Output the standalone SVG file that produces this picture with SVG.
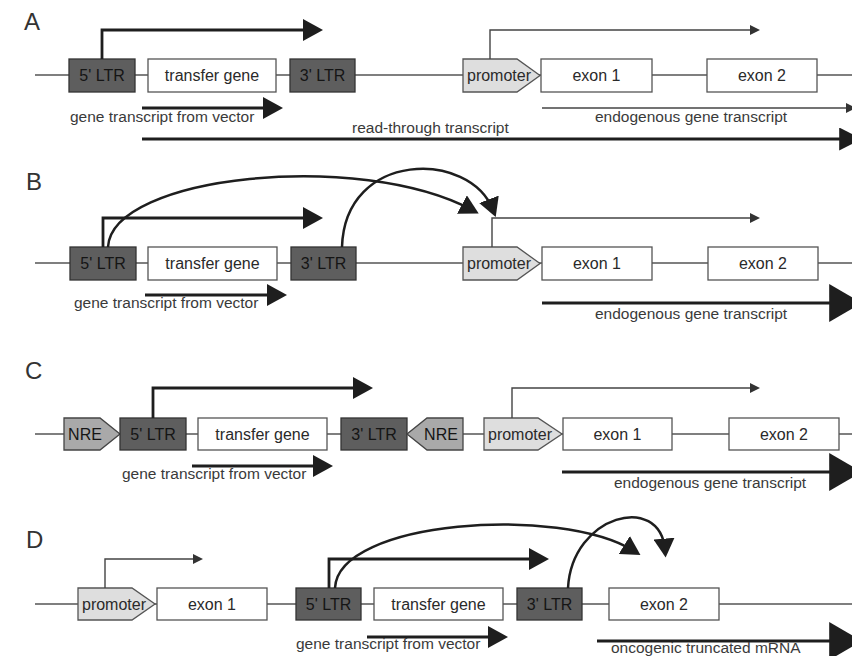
<svg xmlns="http://www.w3.org/2000/svg" width="852" height="656" viewBox="0 0 852 656">
<style>
text{font-family:"Liberation Sans",Arial,sans-serif;}
.bg{fill:#ffffff;}
.dna{stroke:#555;stroke-width:1.3;fill:none;}
.ltr{fill:#5e5e5e;stroke:#333;stroke-width:1.3;}
.box{fill:#fff;stroke:#555;stroke-width:1.3;}
.prom{fill:#dedede;stroke:#555;stroke-width:1.3;}
.nre{fill:#a9a9a9;stroke:#444;stroke-width:1.3;}
.bt{font-size:16px;fill:#2a2a2a;text-anchor:middle;}
.ltrt{font-size:16px;fill:#151515;text-anchor:middle;}
.lbl{font-size:15.5px;fill:#3a3a3a;}
.pl{font-size:24px;fill:#333;}
.thick{stroke:#1e1e1e;stroke-width:2.8;fill:none;}
.thin{stroke:#444;stroke-width:1.4;fill:none;}
.curve{stroke:#1e1e1e;stroke-width:2.5;fill:none;}
</style>
<defs>
<marker id="big" viewBox="0 0 10 10" refX="6" refY="5" markerWidth="20" markerHeight="22" markerUnits="userSpaceOnUse" orient="auto" preserveAspectRatio="none"><path d="M0,0 L10,5 L0,10 z" fill="#1e1e1e"/></marker>
<marker id="small" viewBox="0 0 10 10" refX="6" refY="5" markerWidth="10" markerHeight="10" markerUnits="userSpaceOnUse" orient="auto" preserveAspectRatio="none"><path d="M0,0 L10,5 L0,10 z" fill="#333"/></marker>
<marker id="huge" viewBox="0 0 10 10" refX="6" refY="5" markerWidth="33" markerHeight="38" markerUnits="userSpaceOnUse" orient="auto" preserveAspectRatio="none"><path d="M0,0 L10,5 L0,10 z" fill="#1e1e1e"/></marker>
<marker id="rt" viewBox="0 0 10 10" refX="6" refY="5" markerWidth="23" markerHeight="23" markerUnits="userSpaceOnUse" orient="auto" preserveAspectRatio="none"><path d="M0,0 L10,5 L0,10 z" fill="#1e1e1e"/></marker>
<marker id="cv" viewBox="0 0 10 10" refX="6" refY="5" markerWidth="19" markerHeight="21" markerUnits="userSpaceOnUse" orient="auto" preserveAspectRatio="none"><path d="M0,0 L10,5 L0,10 z" fill="#1e1e1e"/></marker>
</defs>
<rect class="bg" x="0" y="0" width="852" height="656"/>

<!-- Panel labels -->
<text class="pl" x="24" y="30">A</text>
<text class="pl" x="26" y="190">B</text>
<text class="pl" x="25" y="379">C</text>
<text class="pl" x="26" y="548">D</text>

<!-- DNA baselines -->
<g id="dna-lines">
<line class="dna" x1="35" y1="75" x2="852" y2="75"/>
<line class="dna" x1="35" y1="263" x2="852" y2="263"/>
<line class="dna" x1="35" y1="434" x2="852" y2="434"/>
<line class="dna" x1="35" y1="604" x2="852" y2="604"/>
</g>

<!-- Panel A nodes -->
<g id="A-5ltr"><rect class="ltr" x="69" y="59" width="66" height="33"/><text class="ltrt" x="102" y="81">5' LTR</text></g>
<g id="A-transfer"><rect class="box" x="148" y="59" width="128" height="33"/><text class="bt" x="212" y="81">transfer gene</text></g>
<g id="A-3ltr"><rect class="ltr" x="290" y="59" width="65" height="33"/><text class="ltrt" x="322.5" y="81">3' LTR</text></g>
<g id="A-promoter"><path class="prom" d="M463,59 H517 L540,75.5 L517,92 H463 Z"/><text class="bt" x="499" y="81">promoter</text></g>
<g id="A-exon1"><rect class="box" x="541" y="59" width="111" height="33"/><text class="bt" x="596.5" y="81">exon 1</text></g>
<g id="A-exon2"><rect class="box" x="707" y="59" width="110" height="33"/><text class="bt" x="762" y="81">exon 2</text></g>

<!-- Panel B nodes -->
<g id="B-5ltr"><rect class="ltr" x="70" y="247" width="66" height="33"/><text class="ltrt" x="103" y="269">5' LTR</text></g>
<g id="B-transfer"><rect class="box" x="148" y="247" width="129" height="33"/><text class="bt" x="212.5" y="269">transfer gene</text></g>
<g id="B-3ltr"><rect class="ltr" x="291" y="247" width="65" height="33"/><text class="ltrt" x="323.5" y="269">3' LTR</text></g>
<g id="B-promoter"><path class="prom" d="M463,247 H517 L540,263.5 L517,280 H463 Z"/><text class="bt" x="499" y="269">promoter</text></g>
<g id="B-exon1"><rect class="box" x="542" y="247" width="110" height="33"/><text class="bt" x="597" y="269">exon 1</text></g>
<g id="B-exon2"><rect class="box" x="708" y="247" width="110" height="33"/><text class="bt" x="763" y="269">exon 2</text></g>

<!-- Panel C nodes -->
<g id="C-nre1"><path class="nre" d="M64,418 H100 L120,434 L100,450 H64 Z"/><text class="ltrt" x="85" y="440">NRE</text></g>
<g id="C-5ltr"><rect class="ltr" x="120" y="418" width="66" height="32"/><text class="ltrt" x="153" y="440">5' LTR</text></g>
<g id="C-transfer"><rect class="box" x="198" y="418" width="129" height="32"/><text class="bt" x="262.5" y="440">transfer gene</text></g>
<g id="C-3ltr"><rect class="ltr" x="341" y="418" width="66" height="32"/><text class="ltrt" x="374" y="440">3' LTR</text></g>
<g id="C-nre2"><path class="nre" d="M463,418 H427 L407,434 L427,450 H463 Z"/><text class="ltrt" x="441" y="440">NRE</text></g>
<g id="C-promoter"><path class="prom" d="M484,418 H538 L562,434 L538,450 H484 Z"/><text class="bt" x="520" y="440">promoter</text></g>
<g id="C-exon1"><rect class="box" x="563" y="418" width="109" height="32"/><text class="bt" x="617.5" y="440">exon 1</text></g>
<g id="C-exon2"><rect class="box" x="729" y="418" width="110" height="32"/><text class="bt" x="784" y="440">exon 2</text></g>

<!-- Panel D nodes -->
<g id="D-promoter"><path class="prom" d="M78,588 H132 L155,604 L132,620 H78 Z"/><text class="bt" x="114" y="610">promoter</text></g>
<g id="D-exon1"><rect class="box" x="157" y="588" width="110" height="32"/><text class="bt" x="212" y="610">exon 1</text></g>
<g id="D-5ltr"><rect class="ltr" x="296" y="588" width="65" height="32"/><text class="ltrt" x="328.5" y="610">5' LTR</text></g>
<g id="D-transfer"><rect class="box" x="374" y="588" width="129" height="32"/><text class="bt" x="438.5" y="610">transfer gene</text></g>
<g id="D-3ltr"><rect class="ltr" x="517" y="588" width="65" height="32"/><text class="ltrt" x="549.5" y="610">3' LTR</text></g>
<g id="D-exon2"><rect class="box" x="609" y="588" width="110" height="32"/><text class="bt" x="664" y="610">exon 2</text></g>

<!-- Connectors / transcripts -->
<g id="connectors">
<!-- A -->
<path class="thick" d="M102,59 V30 H315" marker-end="url(#big)"/>
<path class="thin" d="M490,59 V30 H756" marker-end="url(#small)"/>
<path class="thick" d="M142,108 H275" marker-end="url(#big)"/>
<path class="thin" d="M542,108 H852" marker-end="url(#small)"/>
<path class="thick" d="M142,139 H853" marker-end="url(#rt)"/>
<!-- B -->
<path class="thick" d="M103,247 V218 H315" marker-end="url(#big)"/>
<path class="thin" d="M492,247 V218 H756" marker-end="url(#small)"/>
<path class="curve" d="M108,247 C112,175 360,150 472,210" marker-end="url(#cv)"/>
<path class="curve" d="M342,247 C345,150 470,150 493,210" marker-end="url(#cv)"/>
<path class="thick" d="M145,295 H279" marker-end="url(#big)"/>
<path class="thick" d="M542,303 H849" marker-end="url(#huge)"/>
<!-- C -->
<path class="thick" d="M153,418 V388 H365" marker-end="url(#big)"/>
<path class="thin" d="M512,418 V388 H756" marker-end="url(#small)"/>
<path class="thick" d="M192,466 H325" marker-end="url(#big)"/>
<path class="thick" d="M562,472 H849" marker-end="url(#huge)"/>
<!-- D -->
<path class="thin" d="M105,588 V559 H199" marker-end="url(#small)"/>
<path class="thick" d="M329,588 V559 H541" marker-end="url(#big)"/>
<path class="curve" d="M335,588 C338,520 560,505 634,551" marker-end="url(#cv)"/>
<path class="curve" d="M568,588 C572,515 660,492 665,550" marker-end="url(#cv)"/>
<path class="thick" d="M367,637 H500" marker-end="url(#big)"/>
<path class="thick" d="M597,641 H849" marker-end="url(#huge)"/>
</g>

<!-- Transcript labels -->
<g id="labels">
<text class="lbl" x="70" y="122">gene transcript from vector</text>
<text class="lbl" x="595" y="122">endogenous gene transcript</text>
<text class="lbl" x="352" y="133">read-through transcript</text>
<text class="lbl" x="74" y="308">gene transcript from vector</text>
<text class="lbl" x="595" y="319">endogenous gene transcript</text>
<text class="lbl" x="122" y="479">gene transcript from vector</text>
<text class="lbl" x="614" y="488">endogenous gene transcript</text>
<text class="lbl" x="296" y="649">gene transcript from vector</text>
<text class="lbl" x="611" y="653">oncogenic truncated mRNA</text>
</g>
</svg>
